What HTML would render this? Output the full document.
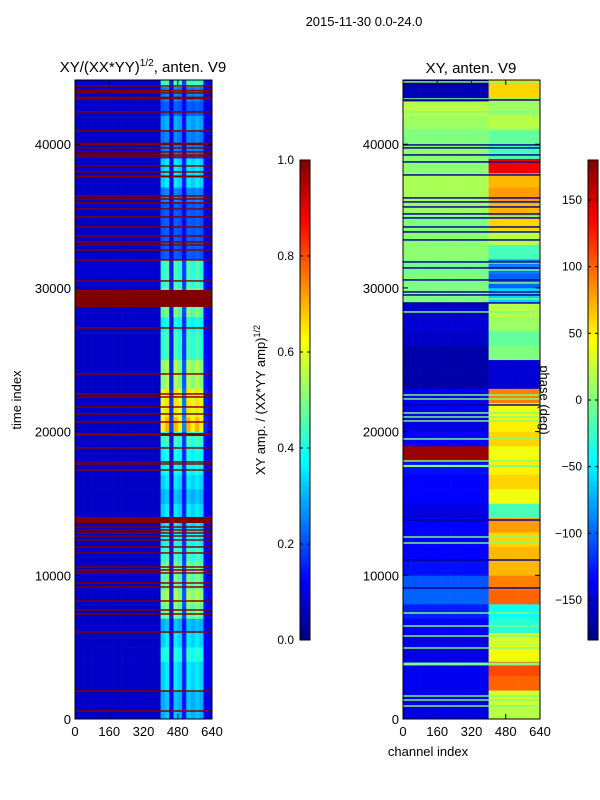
<!DOCTYPE html>
<html><head><meta charset="utf-8">
<style>
body{margin:0;background:#fff;width:600px;height:800px;overflow:hidden}
svg{display:block;font-family:"Liberation Sans",sans-serif}
</style></head>
<body>
<svg id="fig" width="600" height="800">
<text x="364" y="26" font-size="13" text-anchor="middle">2015-11-30 0.0-24.0</text>
<text x="143" y="72" font-size="15" text-anchor="middle">XY/(XX*YY)<tspan font-size="10" dy="-6">1/2</tspan><tspan dy="6">, anten. V9</tspan></text>
<text x="471" y="73" font-size="15" text-anchor="middle">XY, anten. V9</text>
<text transform="translate(21,400) rotate(-90)" font-size="13" text-anchor="middle">time index</text>
<text x="428" y="756" font-size="13" text-anchor="middle">channel index</text>
<text transform="translate(265,400) rotate(-90)" font-size="13" text-anchor="middle">XY amp. / (XX*YY amp)<tspan font-size="9" dy="-5">1/2</tspan></text>
<g id="left"></g>
<g id="right"></g>
<g id="axes"></g>
<text transform="translate(540,400) rotate(90)" font-size="13" text-anchor="middle">phase (deg)</text>
</svg>
<script>
const T_MAX = 44470;
const rowSize = 1000;
const colSize = 20;
// amplitude, per 1000-time row, bottom to top
const ampLow = [0.07,0.07,0.07,0.07,0.07,0.07,0.07,0.07,0.07,0.07,0.07,0.07,0.07,0.07,0.07,0.07,0.07,0.07,0.07,0.07,0.07,0.07,0.07,0.07,0.07,0.07,0.07,0.07,0.07,0.08,0.08,0.08,0.07,0.07,0.07,0.07,0.07,0.07,0.07,0.07,0.07,0.07,0.07,0.07,0.08];
const ampHigh = [0.32,0.32,0.36,0.36,0.42,0.36,0.32,0.5,0.55,0.5,0.5,0.45,0.4,0.36,0.36,0.32,0.36,0.4,0.4,0.45,0.7,0.65,0.65,0.55,0.55,0.45,0.45,0.4,0.5,0.5,0.45,0.45,0.22,0.22,0.22,0.22,0.26,0.36,0.36,0.26,0.26,0.3,0.22,0.26,0.45];
const ampColWeight = [0,0,0,0,0,0,0,0,0,0,0,0,0,0,0,0,0,0,0,0,0.9,1,0.2,1,0.9,0.3,1,0.9,1,0.9,0.15,0.1];
const ampFlagT = [44057,43730,43570,43222,42247,40925,40020,39742,39463,39254,39115,38489,38071,37758,36401,36192,35914,35496,34939,34243,33617,33199,32990,32642,31946,30485,29267,27214,24012,22620,22411,21715,21228,20671,19801,18862,17887,17748,17330,13850,13363,13154,12946,12737,12458,11971,11554,10579,10370,10162,9466,9187,8213,7586,7308,6055,1949,557];
const ampFlagW = [100,100,100,175,100,100,175,100,100,100,100,100,100,140,100,100,100,100,110,100,100,100,100,100,100,100,1183,100,100,100,100,100,100,100,210,100,100,100,100,420,100,100,100,100,100,100,100,100,100,100,100,100,100,100,100,100,100,100];
// phase (deg), per row
const phLow = [-145,-145,-140,-140,-145,-145,-135,-125,-100,-105,-130,-135,-135,-135,-145,-135,-135,-130,170,-135,-145,-140,-140,-165,-165,-165,-155,-150,-155,0,0,-5,5,5,0,10,15,15,5,5,0,10,20,-160,-170];
const phHigh = [20,30,100,110,40,30,-30,-40,100,90,70,70,60,80,-20,40,60,50,40,60,50,40,90,-150,-150,0,-10,10,20,-60,-100,-90,-20,20,60,70,80,70,140,-20,-10,20,10,60,60];
const phLineT = [44335,43152,42247,40994,34939,31738,31250,30346,29232,28327,22550,22272,21298,21019,20741,19488,17957,17609,12667,12250,7378,6473,5777,4942,3828,1601,1322,905,43082,39950,39742,39254,38767,37862,36262,35983,35635,35148,34870,34243,33895,33338,31807,31390,30554,29719,29510,28954,21854,13850,11066,9118];
const phLineV = [0,0,0,0,0,0,0,0,0,0,0,0,0,0,0,0,0,0,0,0,0,0,0,0,0,0,0,0,-175,-175,-175,-175,-175,-175,-175,-175,-175,-175,-175,-175,-175,-175,-175,-175,-175,-175,-175,-175,-175,-175,-175,-175];
const phLineW = [100,100,100,100,100,100,100,100,100,100,100,100,100,100,100,100,100,150,100,100,100,100,100,100,200,100,100,100,100,100,100,100,100,100,100,100,100,100,100,100,100,100,100,100,100,100,100,100,100,100,100,100];
const xTicks = [0,160,320,480,640];
const yTicks = [0,10000,20000,30000,40000];
const ampTicks = [0.0,0.2,0.4,0.6,0.8,1.0];
const phTicks = [-150,-100,-50,0,50,100,150];

const NS = 'http://www.w3.org/2000/svg';
function jet(v){
  const c = x => Math.max(0, Math.min(1, x));
  const r = c(Math.min(4*v-1.5, -4*v+4.5)), g = c(Math.min(4*v-0.5, -4*v+3.5)), b = c(Math.min(4*v+0.5, -4*v+2.5));
  return 'rgb(' + Math.round(r*255) + ',' + Math.round(g*255) + ',' + Math.round(b*255) + ')';
}
function mk(tag, attrs, parent){
  const e = document.createElementNS(NS, tag);
  for (const k in attrs) e.setAttribute(k, attrs[k]);
  parent.appendChild(e); return e;
}
const PT = 80, PB = 719, PW = 137;
const yS = t => PB - t / T_MAX * (PB - PT);
const xS = (x0, ch) => x0 + ch / 640 * PW;

function panel(g, x0, cellVal, flagT, flagW, flagV){
  const nRows = Math.ceil(T_MAX / rowSize);
  for (let r = 0; r < nRows; r++){
    for (let c = 0; c < 32; c++){
      const v = cellVal(r, c);
      const y1 = yS(Math.min((r+1)*rowSize, T_MAX)), y0 = yS(r*rowSize);
      const rc = mk('rect', {x: xS(x0, c*colSize).toFixed(2), y: y1.toFixed(2), width: (PW/32+0.3).toFixed(2), height: (y0-y1+0.3).toFixed(2), fill: jet(v)}, g);
      
      
    }
  }
  for (let i = 0; i < flagT.length; i++){
    const y1 = yS(flagT[i] + flagW[i]/2), y0 = yS(flagT[i] - flagW[i]/2);
    const fl = mk('rect', {x: x0, y: y1.toFixed(2), width: PW, height: Math.max(1, y0-y1).toFixed(2), fill: jet(flagV(i))}, g);
    
    
  }
}
panel(document.getElementById('left'), 75,
  (r, c) => ampLow[r] + ampColWeight[c] * (ampHigh[r] - ampLow[r]),
  ampFlagT, ampFlagW, i => 1.0);
panel(document.getElementById('right'), 403,
  (r, c) => ((c < 20 ? phLow[r] : phHigh[r]) + 180) / 360,
  phLineT, phLineW, i => (phLineV[i] + 180) / 360);

const ax = document.getElementById('axes');
function frame(x0, name){
  const f = mk('rect', {x: x0, y: PT, width: PW, height: PB-PT, fill: 'none', stroke: '#000', 'stroke-width': 1}, ax);
  
  
  xTicks.forEach(v => {
    const x = xS(x0, v);
    mk('line', {x1: x, x2: x, y1: PB, y2: PB-5, stroke: '#000'}, ax);
    mk('line', {x1: x, x2: x, y1: PT, y2: PT+5, stroke: '#000'}, ax);
    const t = mk('text', {x: x, y: PB+17, 'font-size': 13, 'text-anchor': 'middle'}, ax);
    t.textContent = v;
    
    
  });
  yTicks.forEach(v => {
    const y = yS(v);
    mk('line', {x1: x0, x2: x0+5, y1: y, y2: y, stroke: '#000'}, ax);
    mk('line', {x1: x0+PW, x2: x0+PW-5, y1: y, y2: y, stroke: '#000'}, ax);
    const t = mk('text', {x: x0-4, y: y+5, 'font-size': 13, 'text-anchor': 'end'}, ax);
    t.textContent = v;
    
    
  });
}
frame(75, 'amplitude-axes');
frame(403, 'phase-axes');

function colorbar(x0, vmin, vmax, ticks, name, fmt){
  const top = 160, bot = 640, w = 10, n = 100;
  for (let i = 0; i < n; i++){
    const r = mk('rect', {x: x0, y: (bot - (i+1)*(bot-top)/n).toFixed(2), width: w, height: ((bot-top)/n+0.3).toFixed(2), fill: jet((i+0.5)/n)}, ax);
    
    
  }
  const f = mk('rect', {x: x0, y: top, width: w, height: bot-top, fill: 'none', stroke: '#000'}, ax);
  
  
  ticks.forEach(v => {
    const y = bot - (v - vmin) / (vmax - vmin) * (bot - top);
    mk('line', {x1: x0, x2: x0+3, y1: y, y2: y, stroke: '#000'}, ax);
    mk('line', {x1: x0+w, x2: x0+w-3, y1: y, y2: y, stroke: '#000'}, ax);
    const t = mk('text', {x: x0-6, y: y+4, 'font-size': 12, 'text-anchor': 'end'}, ax);
    t.textContent = fmt(v);
    
    
  });
}
colorbar(300, 0, 1, ampTicks, 'amplitude-colorbar', v => v.toFixed(1));
colorbar(588, -180, 180, phTicks, 'phase-colorbar', v => v < 0 ? '\u2212' + Math.abs(v) : String(v));
</script>
</body></html>
